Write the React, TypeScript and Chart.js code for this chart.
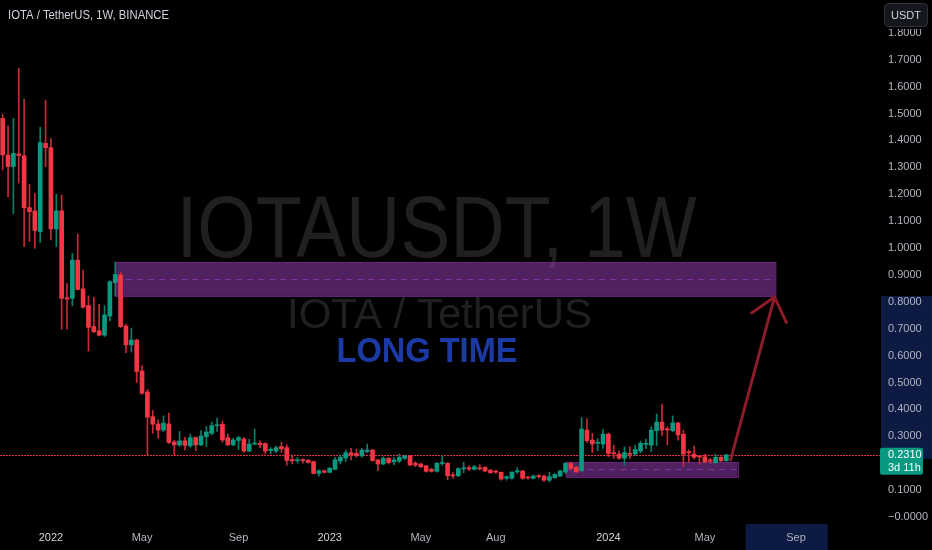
import React, { useEffect, useRef } from 'react';
import { Chart, registerables } from 'chart.js';

Chart.register(...registerables);

// Weekly IOTA/USDT candles, first week starting 2021-11-01
const opens = [
  1.482, 1.346, 1.303, 1.350, 1.343, 1.150, 1.138, 1.061, 1.389, 1.373,
  1.071, 1.138, 0.815, 0.813, 0.955, 0.848, 0.786, 0.708, 0.692, 0.676,
  0.747, 0.871, 0.900, 0.710, 0.640, 0.658, 0.543, 0.465, 0.373, 0.346,
  0.323, 0.346, 0.279, 0.268, 0.283, 0.264, 0.295, 0.268, 0.299, 0.311,
  0.339, 0.345, 0.295, 0.268, 0.285, 0.290, 0.245, 0.271, 0.274, 0.273,
  0.247, 0.245, 0.262, 0.258, 0.214, 0.209, 0.213, 0.211, 0.206, 0.162,
  0.172, 0.166, 0.177, 0.208, 0.219, 0.239, 0.237, 0.227, 0.243, 0.249,
  0.212, 0.197, 0.218, 0.205, 0.208, 0.218, 0.227, 0.200, 0.197, 0.190,
  0.177, 0.170, 0.199, 0.200, 0.157, 0.153, 0.179, 0.183, 0.177, 0.183,
  0.184, 0.174, 0.171, 0.166, 0.144, 0.144, 0.168, 0.171, 0.148, 0.144,
  0.153, 0.152, 0.137, 0.146, 0.152, 0.167, 0.199, 0.184, 0.172, 0.323,
  0.286, 0.274, 0.271, 0.308, 0.239, 0.234, 0.219, 0.236, 0.234, 0.245,
  0.270, 0.267, 0.321, 0.353, 0.328, 0.321, 0.350, 0.308, 0.243, 0.234,
  0.227, 0.224, 0.212, 0.202, 0.222, 0.209,
];
const highs = [
  1.498, 1.454, 1.482, 1.668, 1.553, 1.237, 1.203, 1.449, 1.550, 1.407,
  1.200, 1.197, 0.869, 0.980, 1.052, 0.918, 0.822, 0.817, 0.791, 0.786,
  0.879, 0.948, 0.910, 0.716, 0.702, 0.661, 0.562, 0.475, 0.396, 0.361,
  0.376, 0.386, 0.286, 0.318, 0.296, 0.308, 0.298, 0.321, 0.336, 0.353,
  0.368, 0.357, 0.309, 0.293, 0.300, 0.296, 0.289, 0.327, 0.283, 0.276,
  0.258, 0.264, 0.279, 0.268, 0.231, 0.222, 0.217, 0.214, 0.208, 0.175,
  0.175, 0.185, 0.222, 0.231, 0.249, 0.255, 0.252, 0.255, 0.271, 0.252,
  0.214, 0.224, 0.222, 0.222, 0.234, 0.229, 0.229, 0.206, 0.200, 0.192,
  0.182, 0.202, 0.227, 0.202, 0.165, 0.183, 0.203, 0.190, 0.192, 0.195,
  0.187, 0.177, 0.174, 0.168, 0.153, 0.168, 0.184, 0.174, 0.151, 0.156,
  0.158, 0.156, 0.167, 0.162, 0.174, 0.203, 0.204, 0.189, 0.370, 0.366,
  0.311, 0.292, 0.326, 0.313, 0.267, 0.246, 0.261, 0.261, 0.267, 0.282,
  0.290, 0.336, 0.383, 0.420, 0.336, 0.376, 0.352, 0.323, 0.249, 0.264,
  0.228, 0.234, 0.218, 0.234, 0.225, 0.234,
];
const lows = [
  1.290, 1.191, 1.127, 1.241, 1.005, 1.024, 0.999, 1.020, 1.302, 1.030,
  1.005, 0.698, 0.698, 0.785, 0.844, 0.776, 0.617, 0.685, 0.673, 0.671,
  0.729, 0.822, 0.705, 0.611, 0.613, 0.500, 0.456, 0.231, 0.311, 0.293,
  0.318, 0.274, 0.231, 0.262, 0.249, 0.259, 0.247, 0.265, 0.262, 0.305,
  0.318, 0.277, 0.265, 0.265, 0.250, 0.242, 0.243, 0.268, 0.258, 0.234,
  0.234, 0.239, 0.240, 0.192, 0.197, 0.200, 0.200, 0.200, 0.160, 0.152,
  0.164, 0.164, 0.175, 0.197, 0.206, 0.212, 0.222, 0.222, 0.239, 0.207,
  0.172, 0.195, 0.197, 0.195, 0.202, 0.214, 0.191, 0.187, 0.183, 0.167,
  0.167, 0.167, 0.192, 0.138, 0.143, 0.150, 0.165, 0.172, 0.175, 0.175,
  0.168, 0.162, 0.162, 0.137, 0.137, 0.141, 0.162, 0.140, 0.141, 0.141,
  0.144, 0.132, 0.130, 0.144, 0.150, 0.162, 0.174, 0.165, 0.168, 0.276,
  0.239, 0.246, 0.255, 0.224, 0.218, 0.214, 0.193, 0.218, 0.229, 0.239,
  0.255, 0.243, 0.265, 0.301, 0.267, 0.317, 0.286, 0.187, 0.205, 0.215,
  0.197, 0.202, 0.199, 0.199, 0.207, 0.208,
];
const closes = [
  1.346, 1.303, 1.352, 1.344, 1.150, 1.135, 1.065, 1.392, 1.373, 1.071,
  1.138, 0.813, 0.810, 0.955, 0.846, 0.780, 0.705, 0.689, 0.676, 0.751,
  0.875, 0.902, 0.708, 0.640, 0.658, 0.541, 0.460, 0.371, 0.345, 0.323,
  0.349, 0.277, 0.268, 0.283, 0.266, 0.295, 0.268, 0.301, 0.316, 0.340,
  0.343, 0.286, 0.268, 0.286, 0.295, 0.245, 0.271, 0.274, 0.269, 0.245,
  0.252, 0.258, 0.253, 0.210, 0.209, 0.213, 0.209, 0.203, 0.162, 0.172,
  0.166, 0.181, 0.213, 0.222, 0.239, 0.231, 0.228, 0.249, 0.249, 0.210,
  0.197, 0.218, 0.202, 0.212, 0.222, 0.227, 0.193, 0.193, 0.187, 0.170,
  0.170, 0.200, 0.202, 0.153, 0.153, 0.180, 0.183, 0.178, 0.187, 0.179,
  0.171, 0.165, 0.167, 0.141, 0.150, 0.167, 0.172, 0.144, 0.145, 0.153,
  0.150, 0.137, 0.150, 0.158, 0.171, 0.199, 0.181, 0.168, 0.327, 0.284,
  0.271, 0.278, 0.308, 0.236, 0.235, 0.219, 0.239, 0.233, 0.251, 0.274,
  0.274, 0.323, 0.353, 0.323, 0.324, 0.350, 0.305, 0.234, 0.239, 0.222,
  0.223, 0.204, 0.207, 0.222, 0.209, 0.231,
];

const FIRST_WEEK = '2021-11-01';
const TOTAL_SLOTS = 161; // candles plus empty future weeks on the time axis

const xTickIndices = [9, 26, 44, 61, 78, 92, 113, 131, 148];
const xTickTexts = ['2022', 'May', 'Sep', '2023', 'May', 'Aug', '2024', 'May', 'Sep'];
const yTickValues = [0, 0.1, 0.2, 0.3, 0.4, 0.5, 0.6, 0.7, 0.8, 0.9, 1.0, 1.1, 1.2, 1.3, 1.4, 1.5, 1.6, 1.7, 1.8];
const Y_MIN = -0.026;
const Y_MAX = 1.922;

const lastPrice = 0.231;
const countdownText = '3d 11h';
const titleText = 'IOTA / TetherUS, 1W, BINANCE';
const watermarkMain = 'IOTAUSDT, 1W';
const watermarkSub = 'IOTA / TetherUS';
const noteText = 'LONG TIME';
const currencyText = 'USDT';

// drawings (time index / price)
const upperZone = [21.0, 144.2, 0.822, 0.948];
const lowerZone = [105.0, 137.1, 0.149, 0.2045];
const arrowPath = [135.8, 0.212, 144.0, 0.818];
const priceRangeHighlight = [0.216, 0.822];
const timeRangeHighlight = [138.6, 153.9];

const UP = '#089981';
const DOWN = '#f23645';
const UP_WICK = '#0b7e6b';
const DOWN_WICK = '#c62b3a';
const FONT = "'Liberation Sans', Arial, sans-serif";

function weekLabels(): string[] {
  const start = new Date(FIRST_WEEK + 'T00:00:00Z').getTime();
  const out: string[] = [];
  for (let i = 0; i < TOTAL_SLOTS; i++) {
    out.push(new Date(start + i * 7 * 86400000).toISOString().slice(0, 10));
  }
  return out;
}

const overlayPlugin = {
  id: 'tvOverlay',
  beforeDraw(chart: any) {
    const { ctx, width, height } = chart;
    const x = chart.scales.x;
    const y = chart.scales.y;
    ctx.save();
    ctx.fillStyle = '#000000';
    ctx.fillRect(0, 0, width, height);
    // axis highlights
    ctx.fillStyle = '#0d1a44';
    const py1 = y.getPixelForValue(priceRangeHighlight[1]);
    const py2 = y.getPixelForValue(priceRangeHighlight[0]);
    ctx.fillRect(y.left + 18, py1, width - (y.left + 18), py2 - py1);
    const tx1 = x.getPixelForValue(timeRangeHighlight[0]);
    const tx2 = x.getPixelForValue(timeRangeHighlight[1]);
    ctx.fillRect(tx1, x.top, tx2 - tx1, height - x.top);
    ctx.restore();
  },
  beforeDatasetsDraw(chart: any) {
    const { ctx, chartArea } = chart;
    const x = chart.scales.x;
    const y = chart.scales.y;
    const cx = (chartArea.left + chartArea.right) / 2;
    ctx.save();
    // watermark
    ctx.fillStyle = '#202020';
    ctx.textAlign = 'center';
    ctx.textBaseline = 'alphabetic';
    ctx.font = `88px ${FONT}`;
    ctx.fillText(watermarkMain, cx + 5, 257, 520);
    ctx.font = `42px ${FONT}`;
    ctx.fillText(watermarkSub, cx + 8, 328, 305);
    ctx.fillStyle = '#1b3aa6';
    ctx.font = `bold 35px ${FONT}`;
    ctx.fillText(noteText, 427, 362, 181);

    // zones
    const drawZone = (z: number[]) => {
      const x1 = x.getPixelForValue(z[0]);
      const x2 = x.getPixelForValue(z[1]);
      const yTop = y.getPixelForValue(z[3]);
      const yBot = y.getPixelForValue(z[2]);
      ctx.fillStyle = 'rgba(162, 64, 188, 0.5)';
      ctx.fillRect(x1, yTop, x2 - x1, yBot - yTop);
      ctx.strokeStyle = '#6a2480';
      ctx.lineWidth = 1;
      ctx.strokeRect(Math.round(x1) + 0.5, Math.round(yTop) + 0.5, x2 - x1, yBot - yTop);
      ctx.setLineDash([6, 5]);
      ctx.strokeStyle = '#8232a6';
      const ym = Math.round((yTop + yBot) / 2) + 0.5;
      ctx.beginPath();
      ctx.moveTo(x1, ym);
      ctx.lineTo(x2, ym);
      ctx.stroke();
      ctx.setLineDash([]);
    };
    drawZone(upperZone);
    drawZone(lowerZone);

    // last price dotted line
    const lp = Math.round(y.getPixelForValue(lastPrice)) + 0.5;
    ctx.strokeStyle = '#e23444';
    ctx.lineWidth = 1;
    ctx.setLineDash([2, 1]);
    ctx.beginPath();
    ctx.moveTo(0, lp);
    ctx.lineTo(y.left + 18, lp);
    ctx.stroke();
    ctx.setLineDash([]);
    ctx.restore();
  },
  afterDraw(chart: any) {
    const { ctx, width } = chart;
    const x = chart.scales.x;
    const y = chart.scales.y;
    ctx.save();
    // arrow
    const ax1 = x.getPixelForValue(arrowPath[0]);
    const ay1 = y.getPixelForValue(arrowPath[1]);
    const ax2 = x.getPixelForValue(arrowPath[2]);
    const ay2 = y.getPixelForValue(arrowPath[3]);
    ctx.strokeStyle = '#8c1d28';
    ctx.lineWidth = 3;
    ctx.lineCap = 'round';
    ctx.beginPath();
    ctx.moveTo(ax1, ay1);
    ctx.lineTo(ax2, ay2);
    const ang = Math.atan2(ay1 - ay2, ax1 - ax2);
    const hl = 28;
    const spread = (40 * Math.PI) / 180;
    ctx.moveTo(ax2 + hl * Math.cos(ang + spread), ay2 + hl * Math.sin(ang + spread));
    ctx.lineTo(ax2, ay2);
    ctx.lineTo(ax2 + hl * Math.cos(ang - spread), ay2 + hl * Math.sin(ang - spread));
    ctx.stroke();

    // last price label
    const lp = y.getPixelForValue(lastPrice);
    const bx = y.left + 17;
    ctx.fillStyle = UP;
    ctx.beginPath();
    (ctx as any).roundRect(bx, lp - 7, 43, 27, 2);
    ctx.fill();
    ctx.fillStyle = '#ffffff';
    ctx.font = `11px ${FONT}`;
    ctx.textAlign = 'left';
    ctx.textBaseline = 'middle';
    ctx.fillText(lastPrice.toFixed(4), y.left + 25, lp);
    ctx.fillText(countdownText, y.left + 25, lp + 13);

    // mask over the top of the price scale, then currency button
    ctx.fillStyle = '#000000';
    ctx.fillRect(y.left + 1, 0, width - y.left - 1, 29);
    ctx.fillStyle = '#15171c';
    ctx.strokeStyle = '#30333b';
    ctx.lineWidth = 1;
    ctx.beginPath();
    (ctx as any).roundRect(884.5, 3.5, 43, 23, 4);
    ctx.fill();
    ctx.stroke();
    ctx.fillStyle = '#d1d4dc';
    ctx.textAlign = 'center';
    ctx.fillText(currencyText, 906, 15.5);

    // title
    ctx.textAlign = 'left';
    ctx.textBaseline = 'alphabetic';
    ctx.font = `12px ${FONT}`;
    ctx.fillStyle = '#d1d4dc';
    ctx.fillText(titleText, 8, 19, 161);
    ctx.restore();
  },
};

export default function App() {
  const ref = useRef<HTMLCanvasElement | null>(null);

  useEffect(() => {
    document.body.style.margin = '0';
    document.body.style.background = '#000';
    const canvas = ref.current;
    if (!canvas) return;
    const labels = weekLabels();
    const wickData = lows.map((l, i) => [l, highs[i]]);
    const bodyData = opens.map((o, i) => [o, closes[i]]);
    const isUp = opens.map((o, i) => closes[i] >= o);

    const chart = new Chart(canvas, {
      type: 'bar',
      data: {
        labels,
        datasets: [
          {
            label: 'wick',
            data: wickData as any,
            backgroundColor: isUp.map((u) => (u ? UP_WICK : DOWN_WICK)),
            barThickness: 1,
            grouped: false,
            order: 2,
            borderWidth: 0,
          } as any,
          {
            label: 'body',
            data: bodyData as any,
            backgroundColor: isUp.map((u) => (u ? UP : DOWN)),
            barThickness: 4,
            grouped: false,
            order: 1,
            borderWidth: 0,
            minBarLength: 1,
          } as any,
        ],
      },
      options: {
        responsive: false,
        devicePixelRatio: 1,
        animation: false,
        maintainAspectRatio: false,
        layout: { padding: 0 },
        plugins: {
          legend: { display: false },
          tooltip: { enabled: false },
        },
        scales: {
          x: {
            type: 'category',
            offset: true,
            grid: { display: false, drawTicks: false },
            border: { display: false },
            afterBuildTicks: (scale: any) => {
              scale.ticks = xTickIndices.map((v) => ({ value: v }));
            },
            afterFit: (scale: any) => {
              scale.height = 26;
            },
            ticks: {
              autoSkip: false,
              maxRotation: 0,
              minRotation: 0,
              padding: 7,
              font: { family: FONT, size: 11 },
              color: (c: any) => (/^\d{4}$/.test(xTickTexts[c.index] || '') ? '#d1d4dc' : '#b2b5be'),
              callback: (_v: any, i: number) => xTickTexts[i],
            },
          },
          y: {
            type: 'linear',
            position: 'right',
            bounds: 'data',
            min: Y_MIN,
            max: Y_MAX,
            grid: { display: false, drawTicks: false },
            border: { display: false },
            afterBuildTicks: (scale: any) => {
              scale.ticks = yTickValues.map((v) => ({ value: v }));
              scale.min = Y_MIN;
              scale.max = Y_MAX;
            },
            afterFit: (scale: any) => {
              scale.width = 69;
              scale.paddingTop = 0;
              scale.paddingBottom = 0;
            },
            ticks: {
              padding: 25,
              font: { family: FONT, size: 11 },
              color: '#b2b5be',
              callback: (v: any) => (Number(v) === 0 ? '\u22120.0000' : Number(v).toFixed(4)),
            },
          },
        },
      },
      plugins: [overlayPlugin],
    } as any);

    return () => chart.destroy();
  }, []);

  return (
    <canvas
      ref={ref}
      width={932}
      height={550}
      style={{ display: 'block', width: 932, height: 550 }}
    />
  );
}
